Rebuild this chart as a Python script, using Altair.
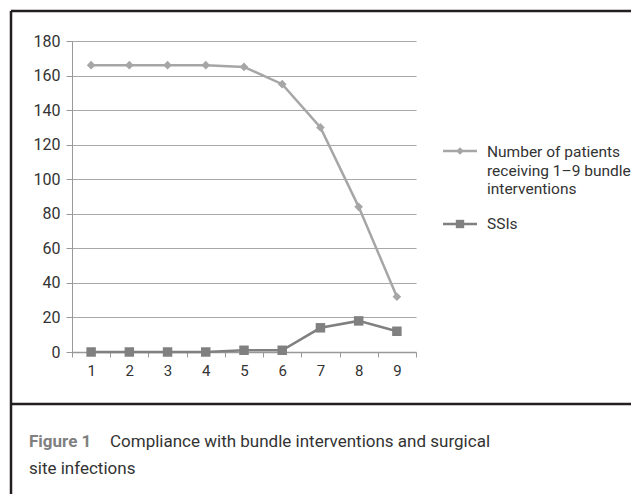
import altair as alt
import pandas as pd

interventions = [1, 2, 3, 4, 5, 6, 7, 8, 9]
patients = [166, 166, 166, 166, 165, 155, 130, 84, 32]
ssis = [0, 0, 0, 0, 1, 1, 14, 18, 12]
legend_lines_1 = ["Number of patients", "receiving 1\u20139 bundle", "interventions"]
legend_line_2 = "SSIs"
caption_label = "Figure 1"
caption_line1 = "Compliance with bundle interventions and surgical"
caption_line2 = "site infections"
y_ticks = [0, 20, 40, 60, 80, 100, 120, 140, 160, 180]

FONT = "Roboto"
C_PAT = "#a6a6a6"
C_SSI = "#808080"
FRAME = "#231f20"
TXT = "#333333"

df_p = pd.DataFrame({"n": interventions, "v": patients})
df_s = pd.DataFrame({"n": interventions, "v": ssis})

W, H = 344, 311

xenc = alt.X("n:O", title=None,
             scale=alt.Scale(type="band", paddingInner=0, paddingOuter=0),
             axis=alt.Axis(labelAngle=0, tickBand="extent", domainColor="#999999",
                           domainWidth=1.5, tickColor="#999999", tickSize=5,
                           labelFont=FONT, labelFontSize=15, labelColor=TXT,
                           labelPadding=6, grid=False))
yenc = alt.Y("v:Q", title=None,
             scale=alt.Scale(domain=[0, 180], nice=False),
             axis=alt.Axis(values=y_ticks, domainColor="#999999", tickColor="#999999",
                           tickSize=6, gridColor="#a8a8a8", gridWidth=1.2,
                           labelFont=FONT, labelFontSize=16, labelColor=TXT,
                           labelPadding=6))

base_p = alt.Chart(df_p)
base_s = alt.Chart(df_s)

line_p = base_p.mark_line(color=C_PAT, strokeWidth=2.5).encode(x=xenc, y=yenc)
pts_p = base_p.mark_point(shape="diamond", filled=True, color=C_PAT, size=75, opacity=1).encode(x=xenc, y=yenc)
line_s = base_s.mark_line(color=C_SSI, strokeWidth=2.5).encode(x=xenc, y=yenc)
pts_s = base_s.mark_point(shape="square", filled=True, color=C_SSI, size=90, opacity=1).encode(x=xenc, y=yenc)

one = pd.DataFrame({"a": [0]})

def rule(x, x2, y, y2, color, w):
    return alt.Chart(one).mark_rule(color=color, strokeWidth=w).encode(
        x=alt.value(x), x2=alt.value(x2), y=alt.value(y), y2=alt.value(y2))

def text(t, x, y, size, color, weight="normal", baseline="middle"):
    return alt.Chart(pd.DataFrame({"t": [t]})).mark_text(
        align="left", baseline=baseline, font=FONT, fontSize=size, fontWeight=weight,
        color=color).encode(text="t:N", x=alt.value(x), y=alt.value(y))

# frame (plot-area coordinates; plot origin at page (72,41))
frame_top = rule(-61, 600, -30, -30, FRAME, 2.5)
frame_left = rule(-61, -61, -30, 470, FRAME, 2.5)
frame_sep = rule(-61, 600, 363, 363, FRAME, 2.5)

# manual legend
leg_line_p = rule(371, 405, 110, 110, C_PAT, 2.5)
leg_pt_p = alt.Chart(one).mark_point(shape="diamond", filled=True, color=C_PAT, size=60, opacity=1).encode(
    x=alt.value(388), y=alt.value(110))
leg_line_s = rule(371, 405, 183, 183, C_SSI, 2.5)
leg_pt_s = alt.Chart(one).mark_point(shape="square", filled=True, color=C_SSI, size=70, opacity=1).encode(
    x=alt.value(388), y=alt.value(183))
leg_t1 = text(legend_lines_1[0], 415, 111, 15.5, TXT)
leg_t2 = text(legend_lines_1[1], 415, 129.5, 15.5, TXT)
leg_t3 = text(legend_lines_1[2], 415, 148, 15.5, TXT)
leg_t4 = text(legend_line_2, 415, 183, 15.5, TXT)

cap1 = text(caption_label, -43, 406, 17, "#808080", weight="bold", baseline="alphabetic")
cap2 = text(caption_line1, 38, 406, 17, TXT, baseline="alphabetic")
cap3 = text(caption_line2, -43, 433, 17, TXT, baseline="alphabetic")

chart = alt.layer(
    line_p, pts_p, line_s, pts_s,
    frame_top, frame_left, frame_sep,
    leg_line_p, leg_pt_p, leg_line_s, leg_pt_s, leg_t1, leg_t2, leg_t3, leg_t4,
    cap1, cap2, cap3,
).properties(
    width=W, height=H,
    autosize=alt.AutoSizeParams(type="none"),
    padding={"left": 64, "top": 33, "right": 215, "bottom": 142},
    background="white",
).configure_view(stroke=None)

chart.save("out.html", embed_options={"renderer": "svg", "actions": False})
